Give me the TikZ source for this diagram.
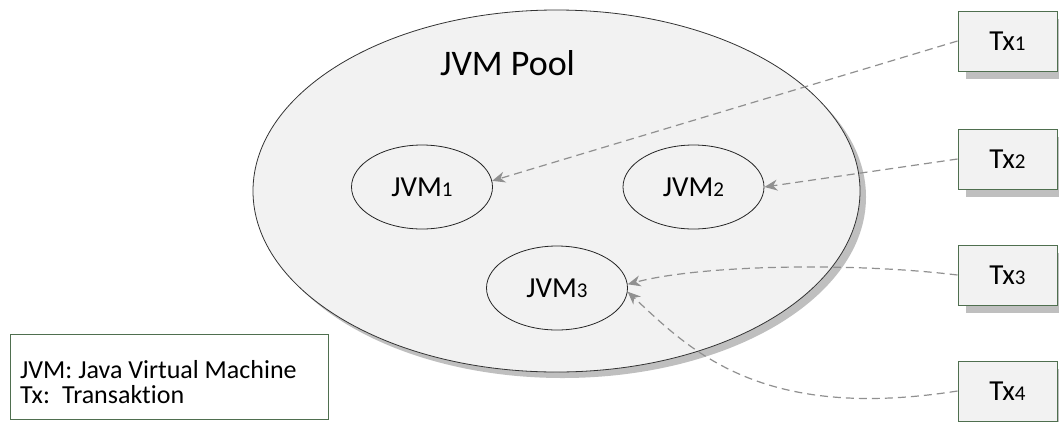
\documentclass[tikz,border=0pt]{standalone}
\usepackage{fontspec}
\setmainfont[Ligatures=NoCommon]{Carlito}
\usetikzlibrary{shapes.geometric,arrows.meta,shadows}

\definecolor{boxgreen}{HTML}{4F6F4F}
\definecolor{linkgray}{HTML}{909090}
\definecolor{paleshade}{HTML}{F2F2F2}
\newcommand{\ix}[1]{{\fontsize{21}{21}\selectfont #1}}

\begin{document}
\begin{tikzpicture}[
  x=1pt, y=-1pt,
  pool/.style={ellipse, draw=black!80, fill=paleshade, line width=0.8pt, inner sep=0pt,
               minimum width=607pt, minimum height=362pt,
               drop shadow={shadow xshift=6pt, shadow yshift=-6pt, fill=black!25, opacity=1}},
  jvm/.style={ellipse, draw=black!85, fill=paleshade, line width=0.8pt, inner sep=0pt,
              minimum width=141pt, minimum height=84pt, font=\fontsize{29}{29}\selectfont},
  tx/.style={draw=boxgreen, fill=paleshade, line width=1pt, inner sep=0pt,
             minimum width=99pt, minimum height=60pt, font=\fontsize{29}{29}\selectfont,
             drop shadow={shadow xshift=8pt, shadow yshift=-8pt, fill=black!25, opacity=1}},
  legend/.style={draw=boxgreen, fill=white, line width=1pt, inner sep=0pt,
                 minimum width=318pt, minimum height=85pt, anchor=north west},
  flow/.style={-{Stealth[length=13pt, width=11pt]}, dash pattern=on 8pt off 5pt,
               line width=1.2pt, draw=linkgray},
]
  \useasboundingbox (0,0) rectangle (1059,421);

  \node[pool] (pool) at (556.5,191) {};
  \node[font=\fontsize{36}{36}\selectfont, anchor=base] (title) at (507.5,75) {JVM Pool};

  \node[jvm] (jvm1) at (422,187) {JVM\ix{1}};
  \node[jvm] (jvm2) at (693.5,187) {JVM\ix{2}};
  \node[jvm] (jvm3) at (557,288) {JVM\ix{3}};

  \foreach \i/\y in {1/41,2/159,3/275,4/391}
    \node[tx] (tx\i) at (1007.5,\y) {Tx\ix{\i}};

  \draw[flow] (tx1.west) -- (jvm1.5);
  \draw[flow] (tx2.west) -- (jvm2.east);
  \draw[flow] (tx3.west) .. controls (850,262) and (700,265) .. (jvm3.3);
  \draw[flow] (tx4.west) .. controls (760,422) and (690,350) .. (jvm3.-3);

  \node[legend] (legend) at (10,334) {};
  \node[anchor=base west, inner sep=0pt] (key) at (20,378) {%
    \fontsize{26}{25}\selectfont
    \begin{tabular}[t]{@{}l@{}}
      JVM: Java Virtual Machine\\
      \makebox[42pt][l]{Tx:}Transaktion
    \end{tabular}};
\end{tikzpicture}
\end{document}
